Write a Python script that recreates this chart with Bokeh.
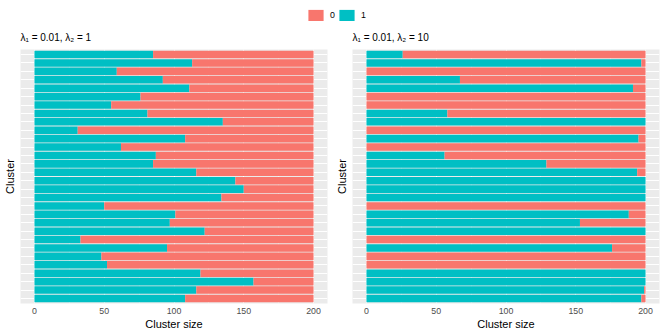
from bokeh.plotting import figure
from bokeh.layouts import column, row
from bokeh.models import Range1d, FixedTicker, ColumnDataSource, Legend, LegendItem
from bokeh.embed import file_html
from bokeh.resources import INLINE

FONT = "Liberation Sans"
RED = "#F8766D"
TEAL = "#00BFC4"

# ---- data (clusters listed top to bottom) ----
clusters = list(range(1, 31))

left_ones = [85, 113, 59, 92, 111, 76, 55, 81, 135, 31, 108, 62, 87, 85, 116,
             144, 150, 134, 50, 101, 97, 122, 33, 95, 48, 52, 119, 157, 116, 108]
left_zeros = [115, 87, 141, 108, 89, 124, 145, 119, 65, 169, 92, 138, 113, 115, 84,
              56, 50, 66, 150, 99, 103, 78, 167, 105, 152, 148, 81, 43, 84, 92]

right_ones = [26, 197, 0, 67, 191, 0, 0, 58, 200, 0, 195, 0, 56, 129, 194,
              200, 200, 200, 0, 188, 153, 200, 0, 176, 0, 0, 200, 200, 199, 197]
right_zeros = [174, 3, 200, 133, 9, 200, 200, 142, 0, 200, 5, 200, 144, 71, 6,
               0, 0, 0, 200, 12, 47, 0, 200, 24, 200, 200, 0, 0, 1, 3]

x_ticks = [0, 50, 100, 150, 200]
x_minor = [25, 75, 125, 175]
legend_labels = ["0", "1"]
titles = ["λ₁ = 0.01, λ₂ = 1", "λ₁ = 0.01, λ₂ = 10"]


def panel(title, ones, zeros, width, left_border, right_border):
    src = ColumnDataSource(dict(cluster=clusters, one=ones, zero=zeros))
    p = figure(width=width, height=311,
               x_range=Range1d(-10, 210), y_range=Range1d(30.6, 0.4),
               output_backend="svg", toolbar_location=None,
               min_border_left=left_border, min_border_right=right_border,
               min_border_top=28, min_border_bottom=29)
    p.hbar_stack(["one", "zero"], y="cluster", height=0.9,
                 color=[TEAL, RED], line_color=None, source=src)

    p.title.text = title
    p.title.text_font = FONT
    p.title.text_font_size = "10px"
    p.title.text_font_style = "normal"
    p.title.text_color = "#000000"
    p.title.standoff = 14

    p.background_fill_color = "#EBEBEB"
    p.border_fill_color = "white"
    p.outline_line_color = None

    xt = FixedTicker(ticks=x_ticks, minor_ticks=x_minor)
    p.xaxis.ticker = xt
    p.xaxis.axis_label = "Cluster size"
    p.xaxis.axis_line_color = None
    p.xaxis.major_tick_line_color = None
    p.xaxis.minor_tick_line_color = None
    p.xaxis.major_tick_out = 0
    p.xaxis.major_tick_in = 0
    p.xaxis.minor_tick_out = 0
    p.xaxis.minor_tick_in = 0
    p.xaxis.major_label_standoff = 4
    p.xaxis.axis_label_standoff = 1
    p.xaxis.major_label_text_font = FONT
    p.xaxis.major_label_text_font_size = "8.8px"
    p.xaxis.major_label_text_color = "#4D4D4D"
    p.xaxis.axis_label_text_font = FONT
    p.xaxis.axis_label_text_font_size = "11px"
    p.xaxis.axis_label_text_font_style = "normal"
    p.xaxis.axis_label_text_color = "#000000"

    p.yaxis.ticker = FixedTicker(ticks=[])
    p.yaxis.axis_label = "Cluster"
    p.yaxis.axis_line_color = None
    p.yaxis.major_tick_line_color = None
    p.yaxis.minor_tick_line_color = None
    p.yaxis.major_tick_out = 0
    p.yaxis.major_tick_in = 0
    p.yaxis.minor_tick_out = 0
    p.yaxis.minor_tick_in = 0
    p.yaxis.major_label_standoff = 0
    p.yaxis.axis_label_standoff = 5
    p.yaxis.axis_label_text_font = FONT
    p.yaxis.axis_label_text_font_size = "11px"
    p.yaxis.axis_label_text_font_style = "normal"
    p.yaxis.axis_label_text_color = "#000000"

    p.xgrid.grid_line_color = "white"
    p.xgrid.grid_line_width = 1.07
    p.xgrid.minor_grid_line_color = "white"
    p.xgrid.minor_grid_line_width = 0.53
    p.ygrid.ticker = FixedTicker(ticks=clusters)
    p.ygrid.grid_line_color = "white"
    p.ygrid.grid_line_width = 1.07
    return p


p1 = panel(titles[0], left_ones, left_zeros, 332, 20, 5)
p2 = panel(titles[1], right_ones, right_zeros, 332, 20, 5)

leg = figure(width=664, height=21, x_range=Range1d(0, 1), y_range=Range1d(0, 1),
             output_backend="svg", toolbar_location=None, min_border=0,
             x_axis_location=None, y_axis_location=None)
leg.grid.visible = False
leg.outline_line_color = None
# zero-width swatch renderers (only used to feed the legend)
r0 = leg.hbar(y=[0], left=[0], right=[0], height=0.5, color=RED, line_color=None)
r1 = leg.hbar(y=[0], left=[0], right=[0], height=0.5, color=TEAL, line_color=None)
legend = Legend(items=[LegendItem(label=legend_labels[0], renderers=[r0]),
                       LegendItem(label=legend_labels[1], renderers=[r1])],
                orientation="horizontal", location=(306, -1),
                glyph_width=19, glyph_height=14, label_width=5, label_height=14,
                label_standoff=5, spacing=2, padding=0, margin=0,
                border_line_color=None, background_fill_alpha=0,
                label_text_font=FONT, label_text_font_size="8.8px",
                label_text_color="#000000")
leg.add_layout(legend, "center")

layout = column(leg, row(p1, p2))
open("out.html", "w").write(file_html(layout, INLINE))
